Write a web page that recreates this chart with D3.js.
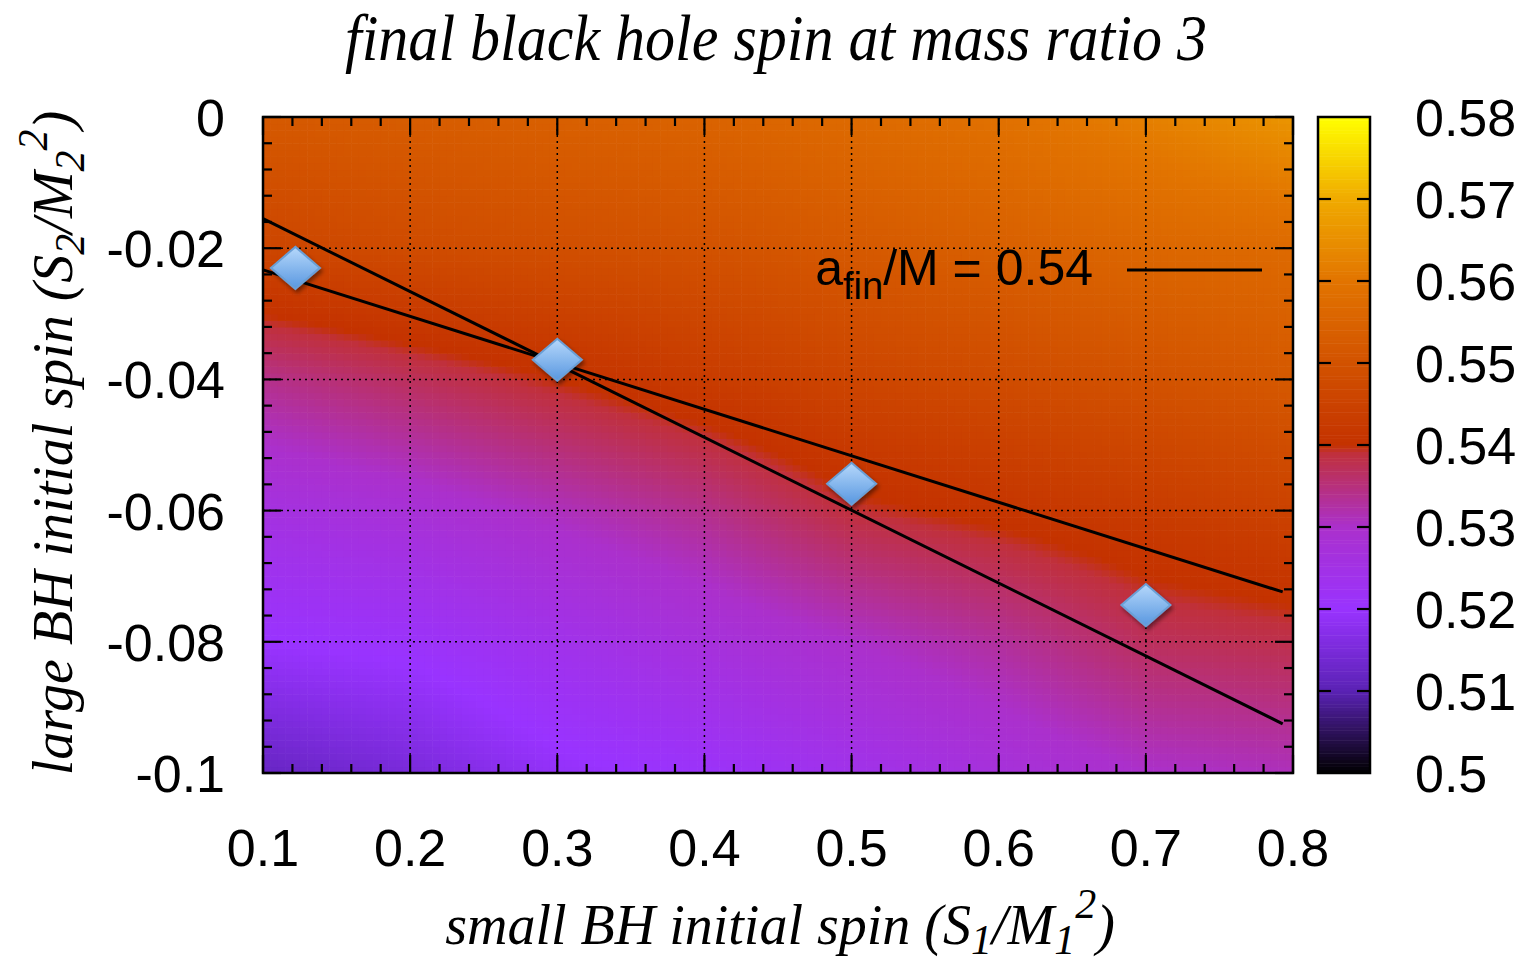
<!DOCTYPE html>
<html>
<head>
<meta charset="utf-8">
<script src="https://cdn.jsdelivr.net/npm/d3@7"></script>
<style>
  body { margin: 0; background: #fff; }
  .tick-label { font-family: "Liberation Sans", Arial, sans-serif; font-size: 52px; fill: #000; }
  .serif { font-family: "Liberation Serif", "Times New Roman", serif; font-style: italic; fill: #000; }
</style>
</head>
<body>
<div id="chart"></div>
<script>
// a_fin/M, on a coarse grid
var gridS1 = [0.1, 0.2, 0.3, 0.4, 0.5, 0.6, 0.7, 0.8];
var gridS2 = [0, -0.02, -0.04, -0.06, -0.08, -0.1];
var afin = [
  [0.552, 0.553, 0.554, 0.555, 0.557, 0.559, 0.562, 0.566],
  [0.546, 0.548, 0.549, 0.550, 0.552, 0.554, 0.556, 0.557],
  [0.534, 0.537, 0.540, 0.543, 0.546, 0.548, 0.550, 0.552],
  [0.526, 0.528, 0.531, 0.534, 0.539, 0.541, 0.543, 0.545],
  [0.520, 0.521, 0.524, 0.527, 0.530, 0.533, 0.537, 0.538],
  [0.512, 0.515, 0.519, 0.521, 0.524, 0.527, 0.530, 0.531]
];

// simulation points
var pointS1 = [0.122, 0.3, 0.5, 0.7];
var pointS2 = [-0.023, -0.037, -0.0559, -0.0744];

// the two a_fin/M = 0.54 lines (end points)
var lineA = [[0.1, -0.0155], [0.793, -0.0925]];
var lineB = [[0.1, -0.0233], [0.793, -0.0724]];

var xTicks = [0.1, 0.2, 0.3, 0.4, 0.5, 0.6, 0.7, 0.8];
var yTicks = [0, -0.02, -0.04, -0.06, -0.08, -0.1];
var cbTicks = [0.5, 0.51, 0.52, 0.53, 0.54, 0.55, 0.56, 0.57, 0.58];

// palette stops
var palVals = [0.5, 0.51, 0.52, 0.53, 0.539, 0.54, 0.55, 0.56, 0.57, 0.58];
var palCols = ["#000000", "#5a22b4", "#9933ff", "#ab30cc", "#c0303c", "#c43200", "#d25200", "#e27400", "#f0aa00", "#ffff00"];

var svgWidth = 1521, svgHeight = 965;
var plot = { left: 263, right: 1293, top: 117, bottom: 773 };
var cb = { left: 1318, right: 1370 };

var fmt = d => String(+d.toFixed(3));

var svg = d3.select("#chart").append("svg")
  .attr("width", svgWidth)
  .attr("height", svgHeight);

var defs = svg.append("defs");
var grad = defs.append("linearGradient").attr("id", "dia").attr("x1", 0).attr("y1", 0).attr("x2", 0).attr("y2", 1);
grad.append("stop").attr("offset", "0%").attr("stop-color", "#b6d8fb");
grad.append("stop").attr("offset", "100%").attr("stop-color", "#5897e0");
var shadow = defs.append("filter").attr("id", "shadow").attr("x", "-30%").attr("y", "-30%").attr("width", "160%").attr("height", "160%");
shadow.append("feDropShadow").attr("dx", 2).attr("dy", 3).attr("stdDeviation", 2).attr("flood-opacity", 0.45);
defs.append("clipPath").attr("id", "plotclip").append("rect")
  .attr("x", plot.left).attr("y", plot.top)
  .attr("width", plot.right - plot.left).attr("height", plot.bottom - plot.top);

var xScale = d3.scaleLinear().domain([0.1, 0.8]).range([plot.left, plot.right]);
var yScale = d3.scaleLinear().domain([-0.1, 0]).range([plot.bottom, plot.top]);
var color = d3.scaleLinear().domain(palVals).range(palCols).clamp(true);
var cbScale = d3.scaleLinear().domain([0.5, 0.58]).range([plot.bottom, plot.top]);

// fractional grid index
var gi = d3.scaleLinear().domain([0.1, 0.8]).range([0, gridS1.length - 1]).clamp(true);
var gj = d3.scaleLinear().domain([0, -0.1]).range([0, gridS2.length - 1]).clamp(true);
function valueAt(s1, s2) {
  var fi = gi(s1), fj = gj(s2);
  var i = Math.min(Math.floor(fi), gridS1.length - 2), j = Math.min(Math.floor(fj), gridS2.length - 2);
  var u = fi - i, v = fj - j;
  return (1 - u) * (1 - v) * afin[j][i] + u * (1 - v) * afin[j][i + 1] +
         (1 - u) * v * afin[j + 1][i] + u * v * afin[j + 1][i + 1];
}

// pm3d-like cells
var dx = 0.005, dy = 0.001;
var cells = [];
d3.range(0.1, 0.8 - 1e-9, dx).forEach(function(s1) {
  d3.range(-0.1, 0 - 1e-9, dy).forEach(function(s2) {
    cells.push({ s1: s1, s2: s2, v: valueAt(s1 + dx / 2, s2 + dy / 2) });
  });
});

var mapGroup = svg.append("g").attr("clip-path", "url(#plotclip)");
mapGroup.selectAll("rect")
  .data(cells)
  .enter()
  .append("rect")
  .attr("x", d => xScale(d.s1))
  .attr("y", d => yScale(d.s2 + dy))
  .attr("width", xScale(dx) - xScale(0) + 0.6)
  .attr("height", yScale(0) - yScale(dy) + 0.6)
  .attr("fill", d => color(d.v));

// grid
var gridGroup = svg.append("g").attr("stroke", "#000").attr("stroke-width", 1.5).attr("stroke-dasharray", "2,4");
gridGroup.selectAll(".gx").data(xTicks.slice(1, -1)).enter().append("line")
  .attr("x1", d => xScale(d)).attr("x2", d => xScale(d))
  .attr("y1", plot.top).attr("y2", plot.bottom);
gridGroup.selectAll(".gy").data(yTicks.slice(1, -1)).enter().append("line")
  .attr("y1", d => yScale(d)).attr("y2", d => yScale(d))
  .attr("x1", plot.left).attr("x2", plot.right);

// ticks (major + minor, all four sides)
var xMinor = d3.range(0.1, 0.8 + 1e-9, 0.02);
var yMinor = d3.range(-0.1, 0 + 1e-9, 0.004);
var tickGroup = svg.append("g").attr("stroke", "#000").attr("stroke-width", 2.2);
function isMajor(v, step) { return Math.abs(v / step - Math.round(v / step)) < 1e-6; }
xMinor.forEach(function(v) {
  var len = isMajor(v, 0.1) ? 18 : 9;
  tickGroup.append("line").attr("x1", xScale(v)).attr("x2", xScale(v)).attr("y1", plot.bottom).attr("y2", plot.bottom - len);
  tickGroup.append("line").attr("x1", xScale(v)).attr("x2", xScale(v)).attr("y1", plot.top).attr("y2", plot.top + len);
});
yMinor.forEach(function(v) {
  var len = isMajor(v, 0.02) ? 18 : 9;
  tickGroup.append("line").attr("y1", yScale(v)).attr("y2", yScale(v)).attr("x1", plot.left).attr("x2", plot.left + len);
  tickGroup.append("line").attr("y1", yScale(v)).attr("y2", yScale(v)).attr("x1", plot.right).attr("x2", plot.right - len);
});

// 0.54 lines
var line = d3.line().x(d => xScale(d[0])).y(d => yScale(d[1]));
[lineA, lineB].forEach(function(l) {
  svg.append("path").attr("d", line(l)).attr("fill", "none").attr("stroke", "#000").attr("stroke-width", 3);
});

// points
svg.selectAll(".pt")
  .data(pointS1.map((s, i) => [s, pointS2[i]]))
  .enter()
  .append("path")
  .attr("d", "M0,-21L24.5,0L0,21L-24.5,0Z")
  .attr("transform", d => `translate(${xScale(d[0])},${yScale(d[1])})`)
  .attr("fill", "url(#dia)")
  .attr("stroke", "#6a9fd6")
  .attr("stroke-width", 2)
  .attr("filter", "url(#shadow)");

// border
svg.append("rect")
  .attr("x", plot.left).attr("y", plot.top)
  .attr("width", plot.right - plot.left).attr("height", plot.bottom - plot.top)
  .attr("fill", "none").attr("stroke", "#000").attr("stroke-width", 2.5);

// tick labels
svg.selectAll(".xl").data(xTicks).enter().append("text")
  .attr("class", "tick-label")
  .attr("x", d => xScale(d)).attr("y", 866)
  .attr("text-anchor", "middle")
  .text(fmt);
svg.selectAll(".yl").data(yTicks).enter().append("text")
  .attr("class", "tick-label")
  .attr("x", 225).attr("y", d => yScale(d) + 19)
  .attr("text-anchor", "end")
  .text(fmt);

// legend
var legend = svg.append("text").attr("class", "tick-label").attr("x", 1093).attr("y", 285).attr("text-anchor", "end").style("font-size", "50px");
legend.append("tspan").text("a");
legend.append("tspan").attr("dy", 14).style("font-size", "38px").text("fin");
legend.append("tspan").attr("dy", -14).text("/M = 0.54");
svg.append("line").attr("x1", 1127).attr("x2", 1262).attr("y1", 270).attr("y2", 270)
  .attr("stroke", "#000").attr("stroke-width", 3);

// colour box
var cbSteps = d3.range(0.5, 0.58, 0.0004);
svg.append("g").selectAll("rect").data(cbSteps).enter().append("rect")
  .attr("x", cb.left).attr("width", cb.right - cb.left)
  .attr("y", d => cbScale(d + 0.0004))
  .attr("height", cbScale(0.5) - cbScale(0.5004) + 0.5)
  .attr("fill", d => color(d + 0.0002));
var cbTickG = svg.append("g").attr("stroke", "#000").attr("stroke-width", 2.2);
cbTicks.slice(1, -1).forEach(function(v) {
  cbTickG.append("line").attr("x1", cb.left).attr("x2", cb.left + 13).attr("y1", cbScale(v)).attr("y2", cbScale(v));
  cbTickG.append("line").attr("x1", cb.right).attr("x2", cb.right - 13).attr("y1", cbScale(v)).attr("y2", cbScale(v));
});
svg.append("rect")
  .attr("x", cb.left).attr("y", plot.top)
  .attr("width", cb.right - cb.left).attr("height", plot.bottom - plot.top)
  .attr("fill", "none").attr("stroke", "#000").attr("stroke-width", 2.5);
svg.selectAll(".cl").data(cbTicks).enter().append("text")
  .attr("class", "tick-label")
  .attr("x", 1415).attr("y", d => cbScale(d) + 19)
  .text(fmt);

// title
svg.append("text").attr("class", "serif")
  .attr("x", 345).attr("y", 60)
  .attr("textLength", 862)
  .attr("lengthAdjust", "spacingAndGlyphs")
  .style("font-size", "66px")
  .text("final black hole spin at mass ratio 3");

// x label
var xl = svg.append("text").attr("class", "serif")
  .attr("x", 780).attr("y", 944).attr("text-anchor", "middle").style("font-size", "56px");
xl.append("tspan").text("small BH initial spin (S");
xl.append("tspan").attr("dy", 10).style("font-size", "42px").text("1");
xl.append("tspan").attr("dy", -10).text("/M");
xl.append("tspan").attr("dy", 10).style("font-size", "42px").text("1");
xl.append("tspan").attr("dy", -36).style("font-size", "42px").text("2");
xl.append("tspan").attr("dy", 26).text(")");

// y label
var yl = svg.append("text").attr("class", "serif")
  .attr("transform", "translate(72,443) rotate(-90)")
  .attr("text-anchor", "middle").style("font-size", "56px");
yl.append("tspan").text("large BH initial spin (S");
yl.append("tspan").attr("dy", 12).style("font-size", "42px").text("2");
yl.append("tspan").attr("dy", -12).text("/M");
yl.append("tspan").attr("dy", 12).style("font-size", "42px").text("2");
yl.append("tspan").attr("dy", -37).style("font-size", "42px").text("2");
yl.append("tspan").attr("dy", 25).text(")");
</script>
</body>
</html>
